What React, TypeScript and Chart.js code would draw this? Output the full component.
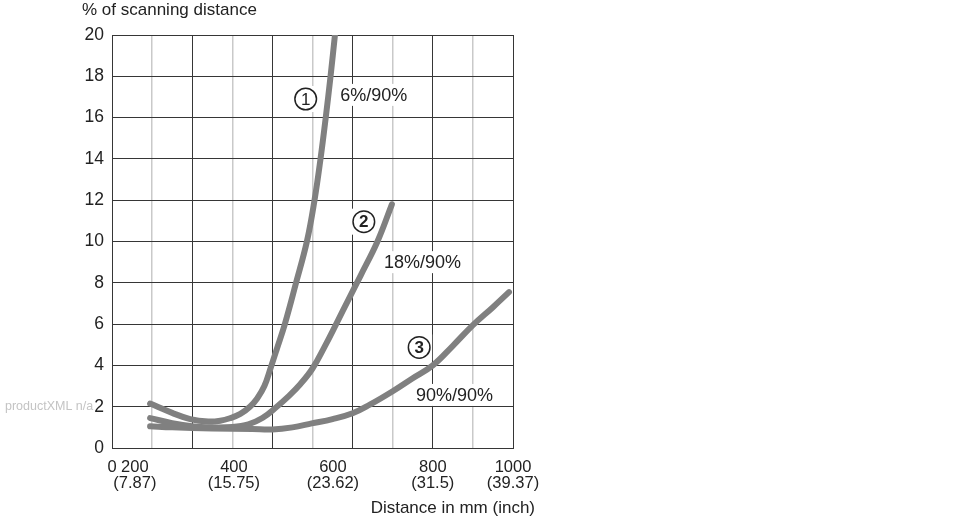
import React, { useEffect, useRef } from 'react';
import { Chart, registerables } from 'chart.js';

Chart.register(...registerables);

// Distance on the grid scale (0 at the left edge, 1000 at the right edge, one grid column = 100)
const xTickValues = [0, 57, 304, 551, 800, 1000];
const xTickLabels: (string | string[])[] = [
  '0',
  ['200', '(7.87)'],
  ['400', '(15.75)'],
  ['600', '(23.62)'],
  ['800', '(31.5)'],
  ['1000', '(39.37)'],
];

// % of scanning distance
const yMin = 0;
const yMax = 20;
const yStep = 2;

// ① 6%/90%
const curve1X = [95, 150, 195, 240, 270, 294, 320, 344, 362, 380, 396, 412, 431, 459, 486, 505, 520, 533, 545, 556];
const curve1Y = [2.15, 1.7, 1.4, 1.28, 1.32, 1.44, 1.65, 2.0, 2.4, 3.0, 3.9, 4.85, 6.0, 8.0, 10.0, 12.0, 14.0, 16.0, 18.0, 20.0];

// ② 18%/90%
const curve2X = [95, 150, 200, 250, 300, 340, 375, 411, 440, 470, 500, 530, 559, 590, 620, 662, 698];
const curve2Y = [1.45, 1.2, 1.05, 1.0, 1.02, 1.15, 1.45, 2.0, 2.5, 3.1, 3.85, 4.9, 6.0, 7.2, 8.35, 10.0, 11.8];

// ③ 90%/90%
const curve3X = [95, 150, 250, 350, 400, 450, 498, 550, 600, 643, 700, 750, 800, 850, 900, 950, 990];
const curve3Y = [1.05, 1.0, 0.95, 0.92, 0.9, 1.0, 1.19, 1.4, 1.68, 2.1, 2.75, 3.38, 4.0, 4.95, 5.95, 6.82, 7.55];

// annotations (anchored in data units)
const markerDigits = ['1', '2', '3'];
const markerX = [483, 628, 766];
const markerY = [16.9, 10.96, 4.87];
const seriesNames = ['6%/90%', '18%/90%', '90%/90%'];
const seriesNameX = [569, 678, 758];
const seriesNameY = [17.1, 9.0, 2.57];

const yAxisTitle = '% of scanning distance';
const xAxisTitle = 'Distance in mm (inch)';
const watermark = 'productXML n/a';

const FONT = '"Liberation Sans", Arial, sans-serif';
const TEXT = '#222222';
const CURVE = 'rgb(128,128,128)';
const DARK = '#363636';
const LIGHT = '#c9c9c9';

const toPoints = (xs: number[], ys: number[]) => xs.map((x, i) => ({ x, y: ys[i] }));

const annotationPlugin = {
  id: 'sketchAnnotations',
  beforeDatasetsDraw(chart: any) {
    const { ctx } = chart;
    const x = chart.scales.x;
    const y = chart.scales.y;
    ctx.save();
    // series name labels with white background
    ctx.font = `18px ${FONT}`;
    ctx.textBaseline = 'middle';
    ctx.textAlign = 'left';
    seriesNames.forEach((name, i) => {
      const px = x.getPixelForValue(seriesNameX[i]);
      const py = y.getPixelForValue(seriesNameY[i]);
      const w = ctx.measureText(name).width;
      ctx.fillStyle = '#ffffff';
      ctx.fillRect(px - 4, py - 11, w + 8, 22);
      ctx.fillStyle = TEXT;
      ctx.fillText(name, px, py + 1);
    });
    // circled markers
    markerDigits.forEach((d, i) => {
      const px = x.getPixelForValue(markerX[i]);
      const py = y.getPixelForValue(markerY[i]);
      ctx.fillStyle = '#ffffff';
      ctx.fillRect(px - 13, py - 13, 26, 26);
      ctx.beginPath();
      ctx.arc(px, py, 10.8, 0, Math.PI * 2);
      ctx.lineWidth = 1.5;
      ctx.strokeStyle = TEXT;
      ctx.stroke();
      ctx.fillStyle = TEXT;
      ctx.font = `${i === 0 ? '' : 'bold '}17px ${FONT}`;
      ctx.textAlign = 'center';
      ctx.textBaseline = 'middle';
      ctx.fillText(d, px, py + 1);
    });
    ctx.restore();
  },
  afterDraw(chart: any) {
    const { ctx, chartArea } = chart;
    const y = chart.scales.y;
    ctx.save();
    ctx.fillStyle = TEXT;
    ctx.font = `17px ${FONT}`;
    ctx.textBaseline = 'middle';
    ctx.textAlign = 'left';
    ctx.fillText(yAxisTitle, chartArea.left - 30, chartArea.top - 25);
    ctx.textAlign = 'right';
    ctx.fillText(xAxisTitle, chartArea.right + 22, chartArea.bottom + 60);
    ctx.fillStyle = '#c4c4c4';
    ctx.font = `12.5px ${FONT}`;
    ctx.textAlign = 'left';
    ctx.fillText(watermark, 5, y.getPixelForValue(2));
    ctx.restore();
  },
};

export default function App() {
  const canvasRef = useRef<HTMLCanvasElement | null>(null);

  useEffect(() => {
    if (!canvasRef.current) return;
    const curveStyle = {
      borderColor: CURVE,
      backgroundColor: CURVE,
      borderWidth: 6,
      pointRadius: 0,
      pointHoverRadius: 0,
      borderCapStyle: 'round' as const,
      borderJoinStyle: 'round' as const,
      tension: 0.4,
      fill: false,
      clip: 0,
      xAxisID: 'x',
      yAxisID: 'y',
    };
    const chart = new Chart(canvasRef.current, {
      type: 'line',
      data: {
        datasets: [
          { label: seriesNames[0], data: toPoints(curve1X, curve1Y), ...curveStyle },
          { label: seriesNames[1], data: toPoints(curve2X, curve2Y), ...curveStyle },
          { label: seriesNames[2], data: toPoints(curve3X, curve3Y), ...curveStyle },
        ],
      },
      options: {
        animation: false,
        responsive: true,
        maintainAspectRatio: false,
        events: [],
        layout: { padding: { top: 35, left: 72, right: 457, bottom: 22 } },
        plugins: {
          legend: { display: false },
          tooltip: { enabled: false },
          title: { display: false },
        },
        scales: {
          x: {
            type: 'linear',
            position: 'bottom',
            min: 0,
            max: 1000,
            ticks: { display: false, stepSize: 100 },
            grid: {
              drawTicks: false,
              color: (c: any) => (Math.round(c.tick.value) % 200 === 0 ? DARK : LIGHT),
              lineWidth: (c: any) => (Math.round(c.tick.value) % 200 === 0 ? 1 : 1.5),
            },
            border: { color: DARK, width: 1 },
            afterFit: (s: any) => {
              s.height = 0;
              s.paddingLeft = 0;
              s.paddingRight = 0;
            },
          },
          xl: {
            type: 'linear',
            position: 'bottom',
            min: 0,
            max: 1000,
            grid: { display: false, drawTicks: false },
            border: { display: false },
            afterBuildTicks: (s: any) => {
              s.ticks = xTickValues.map((v) => ({ value: v }));
            },
            ticks: {
              autoSkip: false,
              maxRotation: 0,
              minRotation: 0,
              padding: 12,
              color: TEXT,
              font: { family: FONT, size: 16.5, lineHeight: 0.95 },
              callback: (_v: any, i: number) => xTickLabels[i],
            },
            afterFit: (s: any) => {
              s.height = 50;
              s.paddingLeft = 0;
              s.paddingRight = 0;
            },
          },
          y: {
            type: 'linear',
            min: yMin,
            max: yMax,
            ticks: {
              stepSize: yStep,
              padding: 8,
              color: TEXT,
              font: { family: FONT, size: 17.5 },
            },
            grid: { drawTicks: false, color: DARK, lineWidth: 1 },
            border: { color: DARK, width: 1 },
            afterFit: (s: any) => {
              s.width = 40;
              s.paddingTop = 0;
              s.paddingBottom = 0;
            },
          },
        },
      },
      plugins: [annotationPlugin],
    });
    return () => chart.destroy();
  }, []);

  return (
    <div style={{ position: 'absolute', left: 0, top: 0, width: 970, height: 520, background: '#ffffff' }}>
      <canvas ref={canvasRef} />
    </div>
  );
}
